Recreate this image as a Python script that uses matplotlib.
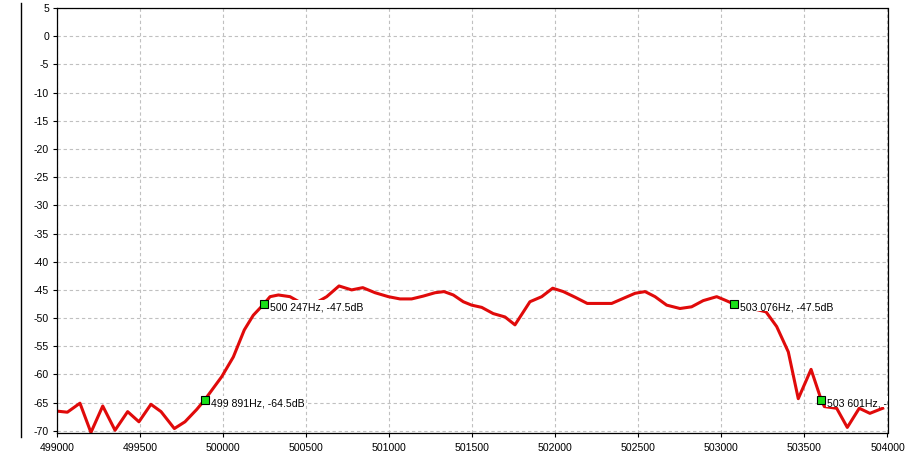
import matplotlib
matplotlib.use("Agg")
import matplotlib.pyplot as plt
from matplotlib.patches import Rectangle
from matplotlib.lines import Line2D

# ---- data ----
freq = [499000, 499064, 499140, 499206, 499277, 499351, 499427, 499495, 499567, 499628,
        499708, 499772, 499843, 499891, 499993, 500063, 500129, 500183, 500247, 500284,
        500334, 500404, 500470, 500560, 500625, 500699, 500775, 500842, 500916, 500996,
        501066, 501136, 501206, 501277, 501331, 501387, 501447, 501497, 501558, 501627,
        501698, 501758, 501848, 501919, 501985, 502049, 502120, 502193, 502270, 502340,
        502410, 502481, 502541, 502601, 502671, 502751, 502821, 502891, 502972, 503021,
        503076, 503269, 503333, 503403, 503463, 503540, 503601, 503620, 503694, 503758,
        503830, 503894, 503971]
level = [-66.5, -66.7, -65.1, -70.3, -65.6, -69.9, -66.6, -68.4, -65.3, -66.6,
         -69.6, -68.4, -66.2, -64.5, -60.4, -56.9, -52.1, -49.5, -47.5, -46.2,
         -45.9, -46.2, -47.3, -47.3, -46.2, -44.3, -45.0, -44.6, -45.5, -46.2,
         -46.6, -46.6, -46.1, -45.5, -45.3, -45.9, -47.1, -47.7, -48.1, -49.2,
         -49.8, -51.2, -47.1, -46.2, -44.7, -45.3, -46.3, -47.4, -47.4, -47.4,
         -46.5, -45.6, -45.3, -46.2, -47.7, -48.3, -48.0, -46.9, -46.2, -46.8,
         -47.5, -48.9, -51.5, -56.0, -64.3, -59.1, -64.5, -65.7, -66.0, -69.4,
         -66.0, -66.9, -66.0]

marker_freq = [499891, 500247, 503076, 503601]
marker_level = [-64.5, -47.5, -47.5, -64.5]
marker_labels = ["499 891Hz, -64.5dB", "500 247Hz, -47.5dB",
                 "503 076Hz, -47.5dB", "503 601Hz, -64.5dB"]

xticks = list(range(499000, 504001, 500))
yticks = list(range(-70, 6, 5))

# ---- figure ----
plt.rcParams["font.family"] = ["Liberation Sans", "DejaVu Sans"]
W, H = 918, 457
fig = plt.figure(figsize=(W / 100, H / 100), dpi=100)
left, right, top, bottom = 56.7, 887.5, 8.1, 432.5
ax = fig.add_axes([left / W, 1 - bottom / H, (right - left) / W, (bottom - top) / H])

ax.plot(freq, level, color="#e00a0a", lw=2.2, zorder=2, solid_joinstyle="round")

ax.set_xlim(499000, 504000)
ax.set_ylim(-70.3, 5)
ax.set_xticks(xticks)
ax.set_xticklabels([str(v) for v in xticks])
ax.set_yticks(yticks)
ax.set_yticklabels([str(v) for v in yticks])
ax.tick_params(direction="out", length=3, width=0.8, labelsize=7.6, colors="black")
ax.tick_params(axis="x", pad=4.5)
ax.tick_params(axis="y", pad=2.5)
ax.grid(True, color="#c0c0c0", linestyle=(0, (3, 2.5)), linewidth=0.8)
ax.set_axisbelow(True)
for sp in ax.spines.values():
    sp.set_color("black")
    sp.set_linewidth(0.9)

# markers
ax.plot(marker_freq, marker_level, linestyle="none", marker="s", markersize=5.8,
        markerfacecolor="#18e018", markeredgecolor="black", markeredgewidth=0.8,
        zorder=5)

texts = []
for f, l, s in zip(marker_freq, marker_level, marker_labels):
    t = ax.annotate(s, xy=(f, l), xytext=(4.3, -4.75), textcoords="offset points",
                    ha="left", va="baseline", fontsize=7.6, color="black", zorder=4,
                    annotation_clip=False)
    t.set_clip_on(True)
    t.set_clip_path(ax.patch)
    texts.append(t)

fig.canvas.draw()
inv = ax.transAxes.inverted()
for t, f, l in zip(texts, marker_freq, marker_level):
    bb = t.get_window_extent()
    mx, my = ax.transData.transform((f, l))
    x0, y0 = inv.transform((bb.x0 - 1, my - 7))
    x1, y1 = inv.transform((bb.x1 + 1, my + 4))
    r = Rectangle((x0, y0), x1 - x0, y1 - y0, transform=ax.transAxes,
                  facecolor="white", edgecolor="none", zorder=3)
    ax.add_patch(r)

# left vertical line
fig.add_artist(Line2D([20.7 / W, 20.7 / W], [1 - 3 / H, 1 - 437 / H],
                      color="black", lw=1.0))

fig.savefig("out.png", dpi=100)
